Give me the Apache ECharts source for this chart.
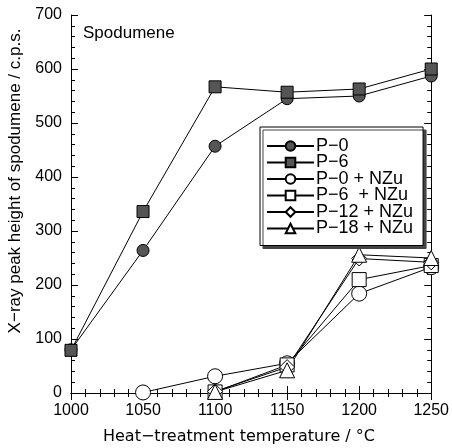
<!DOCTYPE html>
<html><head><meta charset="utf-8">
<script src="https://cdn.jsdelivr.net/npm/echarts@6/dist/echarts.min.js"></script>
<style>html,body{margin:0;padding:0;background:#fff}#c{width:452px;height:448px}</style>
</head><body><div id="c"></div>
<script>
var temps = [1000, 1050, 1100, 1150, 1200, 1250];
var p0      = [80, 264, 457, 545, 550, 587];
var p6      = [79, 336, 567, 557, 563, 600];
var p0nzu   = [null, 1, 31, 55, 184, 233];
var p6nzu   = [null, null, 2, 52, 210, 236];
var p12nzu  = [null, null, 3, 48, 249, 242];
var p18nzu  = [null, null, 2, 42, 256, 250];
var seriesNames = ['P\u22120', 'P\u22126', 'P\u22120 + NZu', 'P\u22126  + NZu', 'P\u221212 + NZu', 'P\u221218 + NZu'];
var xTicks = [1000, 1050, 1100, 1150, 1200, 1250];
var yTicks = [0, 100, 200, 300, 400, 500, 600, 700];

function pairs(v){ var o=[]; for(var i=0;i<temps.length;i++){ if(v[i]!==null) o.push([temps[i], v[i]]); } return o; }
var FONT = 'Liberation Sans, Arial, sans-serif';
var NFONT = 'DejaVu Sans, sans-serif';
function mk(name, vals, symbol, size, fill){
  return {type:'line', name:name, data:pairs(vals), symbol:symbol, symbolSize:size,
    lineStyle:{color:'#000', width:1}, itemStyle:{color:fill, borderColor:'#000', borderWidth:1, opacity:1},
    emphasis:{disabled:true}, animation:false, z: 3};
}
var axisCommon = {
  type:'value', axisLine:{show:true, lineStyle:{color:'#000', width:1}},
  axisTick:{show:true, inside:true, length:7, lineStyle:{color:'#000'}},
  minorTick:{show:true, splitNumber:5, length:4, lineStyle:{color:'#000'}},
  splitLine:{show:false}
};
function ax(extra){ return Object.assign({}, JSON.parse(JSON.stringify(axisCommon)), extra); }
var chart = echarts.init(document.getElementById('c'), null, {renderer:'canvas'});
chart.setOption({
  animation:false,
  backgroundColor:'#fff',
  grid:{left:71, right:19, top:15, bottom:55},
  xAxis:[
    ax({min:xTicks[0], max:xTicks[xTicks.length-1], interval:50, position:'bottom',
      axisLabel:{color:'#000', fontSize:16, fontFamily:FONT, margin:10, formatter:function(v){return String(v);}}}),
    ax({min:xTicks[0], max:xTicks[xTicks.length-1], interval:50, position:'top', axisLabel:{show:false}})
  ],
  yAxis:[
    ax({min:yTicks[0], max:yTicks[yTicks.length-1], interval:100, position:'left',
      axisLabel:{color:'#000', fontSize:16, fontFamily:FONT, margin:9}}),
    ax({min:yTicks[0], max:yTicks[yTicks.length-1], interval:100, position:'right', axisLabel:{show:false}})
  ],
  legend:{
    orient:'vertical', left:260, top:127,
    data:seriesNames,
    itemWidth:47, itemHeight:12, itemGap:-1.5,
    padding:[10, 10, 8, 6],
    backgroundColor:'#fff', borderColor:'#000', borderWidth:1,
    shadowColor:'#444', shadowBlur:0, shadowOffsetX:3, shadowOffsetY:3,
    textStyle:{color:'#000', fontSize:18, lineHeight:16, fontFamily:FONT, padding:[0,0,0,-3]},
    selectedMode:false, z:10
  },
  graphic:[
    {type:'text', left:83, top:25, style:{text:'Spodumene', fontSize:17, fontFamily:FONT, fill:'#000'}},
    {type:'text', x:239, y:437, style:{text:'Heat\u2212treatment temperature / \u00B0C', fontSize:16, fontFamily:NFONT, fill:'#000', textAlign:'center', textVerticalAlign:'middle'}},
    {type:'text', x:15, y:181, rotation:Math.PI/2, style:{text:'X\u2212ray peak height of spodumene / c.p.s.', fontSize:17, fontFamily:FONT, fill:'#000', textAlign:'center', textVerticalAlign:'middle'}}
  ],
  series:[
    mk(seriesNames[0], p0, 'circle', 12, '#555'),
    mk(seriesNames[1], p6, 'rect', 12, '#555'),
    mk(seriesNames[2], p0nzu, 'circle', 15, '#fff'),
    mk(seriesNames[3], p6nzu, 'rect', 14, '#fff'),
    mk(seriesNames[4], p12nzu, 'diamond', 15, '#fff'),
    mk(seriesNames[5], p18nzu, 'triangle', 15, '#fff')
  ]
});
</script></body></html>
